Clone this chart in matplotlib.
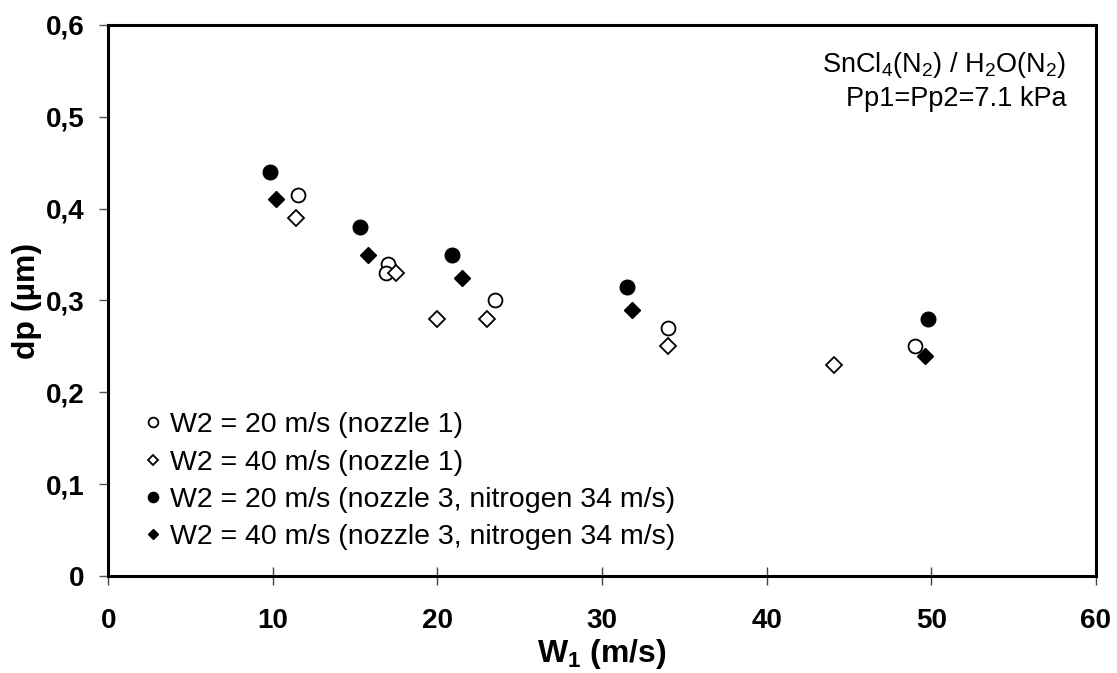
import numpy as np
import matplotlib
matplotlib.use("Agg")
import matplotlib.pyplot as plt
from matplotlib.ticker import FuncFormatter

plt.rcParams['font.family'] = ['Liberation Sans', 'DejaVu Sans']
plt.rcParams['mathtext.fontset'] = 'custom'
plt.rcParams['mathtext.rm'] = 'Liberation Sans'
plt.rcParams['mathtext.bf'] = 'Liberation Sans:bold'
plt.rcParams['mathtext.default'] = 'regular'

# W1 (m/s) and dp (um)
w1_open_c = [11.5, 17.0, 16.9, 23.5, 34.0, 49.0]
dp_open_c = [0.415, 0.34, 0.33, 0.30, 0.27, 0.25]
w1_open_d = [11.4, 17.5, 20.0, 23.0, 34.0, 44.1]
dp_open_d = [0.39, 0.33, 0.28, 0.28, 0.25, 0.23]
w1_full_c = [9.8, 15.3, 20.9, 31.5, 49.8]
dp_full_c = [0.44, 0.38, 0.35, 0.315, 0.28]
w1_full_d = [10.2, 15.8, 21.5, 31.8, 49.6]
dp_full_d = [0.41, 0.35, 0.325, 0.29, 0.24]

labels = ["W2 = 20 m/s (nozzle 1)",
          "W2 = 40 m/s (nozzle 1)",
          "W2 = 20 m/s (nozzle 3, nitrogen 34 m/s)",
          "W2 = 40 m/s (nozzle 3, nitrogen 34 m/s)"]

fig = plt.figure(figsize=(11.17, 6.73), dpi=100)
ax = fig.add_axes([0.097, 0.144, 0.884, 0.819])

ax.plot(w1_open_c, dp_open_c, 'o', ms=10, mfc='white', mec='black', mew=1.3, label=labels[0])
ax.plot(w1_open_d, dp_open_d, 'D', ms=8, mfc='white', mec='black', mew=1.3, label=labels[1])
ax.plot(w1_full_c, dp_full_c, 'o', ms=10.5, mfc='black', mec='black', label=labels[2])
ax.plot(w1_full_d, dp_full_d, 'D', ms=8, mfc='black', mec='black', label=labels[3])

ax.set_xlim(0, 60)
ax.set_ylim(0, 0.6)
ax.set_xticks(np.arange(0, 61, 10))
ax.set_yticks(np.arange(0, 0.61, 0.1))
ax.yaxis.set_major_formatter(FuncFormatter(lambda v, p: "0" if abs(v) < 1e-9 else f"{v:.1f}".replace('.', ',')))

for s in ax.spines.values():
    s.set_linewidth(2.2)
ax.tick_params(axis='x', direction='inout', length=13, width=1, labelsize=20, pad=16.5, color='#444444')
ax.tick_params(axis='y', direction='out', length=6.5, width=1, labelsize=20, pad=10.5, color='#555555')
for t in ax.get_xticklabels() + ax.get_yticklabels():
    t.set_fontweight('bold')

ax.set_xlabel(r"W$_\mathbf{1}$ (m/s)", fontsize=23, fontweight='bold', labelpad=2)
ax.set_ylabel(r"dp (µm)", fontsize=23, fontweight='bold', labelpad=3)

ax.text(0.97, 0.955, "SnCl$_4$(N$_2$) / H$_2$O(N$_2$)\nPp1=Pp2=7.1 kPa",
        transform=ax.transAxes, ha='right', va='top', multialignment='right',
        fontsize=19.5, linespacing=1.3)

ax.legend(loc='lower left', bbox_to_anchor=(0.026, 0.026), frameon=False, fontsize=20.5,
          handlelength=0.5, handletextpad=0.35, labelspacing=0.4, markerscale=0.7,
          borderaxespad=0)

fig.savefig("out.png", dpi=100)
